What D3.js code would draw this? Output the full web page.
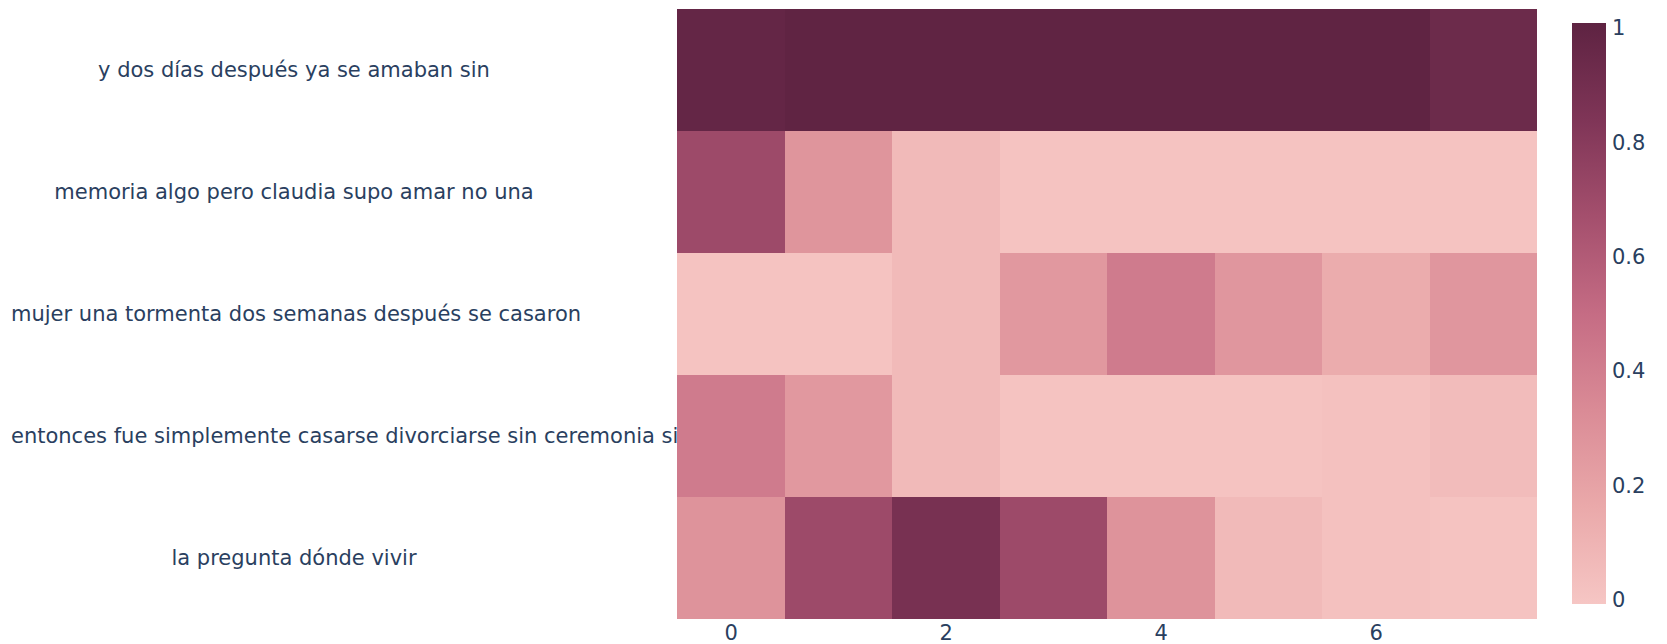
<!DOCTYPE html>
<html>
<head>
<meta charset="utf-8">
<script src="https://cdn.jsdelivr.net/npm/d3@7"></script>
<style>
  body { margin: 0; background: #fff; }
  text { font-family: Verdana, "DejaVu Sans", sans-serif; }
</style>
</head>
<body>
<div id="chart"></div>
<script>
// Chart dimensions
const width = 1667;
const height = 644;
const marginTop = 9;
const marginBottom = 25;
const plotLeft = 677;
const plotRight = 1537;
const fontColor = "#2a3f5f";
const fontSize = "21px";

// Row labels (top to bottom) and column indices
const rowLabels = [
  "y dos días después ya se amaban sin",
  "memoria algo pero claudia supo amar no una",
  "mujer una tormenta dos semanas después se casaron",
  "entonces fue simplemente casarse divorciarse sin ceremonia sin",
  "la pregunta dónde vivir"
];
const columns = [0, 1, 2, 3, 4, 5, 6, 7];
const xTickValues = [0, 2, 4, 6];

// Cell values, one array per row
const row0 = [0.97, 0.99, 0.99, 0.99, 0.99, 0.99, 0.99, 0.93];
const row1 = [0.70, 0.28, 0.07, 0.02, 0.02, 0.02, 0.02, 0.02];
const row2 = [0.02, 0.02, 0.07, 0.26, 0.42, 0.27, 0.15, 0.27];
const row3 = [0.42, 0.26, 0.07, 0.02, 0.02, 0.02, 0.03, 0.06];
const row4 = [0.29, 0.70, 0.87, 0.70, 0.29, 0.07, 0.03, 0.02];
const values = [row0, row1, row2, row3, row4];

// Colour bar
const colorTicks = [0, 0.2, 0.4, 0.6, 0.8, 1];
const colorStops = ["#f6c6c4", "#eaa9aa", "#da8b96", "#c56c84", "#a44f6d", "#7f3557", "#5e2342"];

const color = d3.scaleLinear()
  .domain(colorStops.map((d, i) => i / (colorStops.length - 1)))
  .range(colorStops)
  .interpolate(d3.interpolateRgb);

const x = d3.scaleLinear()
  .domain([-0.5, 7.5])
  .range([plotLeft, plotRight]);

const y = d3.scaleBand()
  .domain(d3.range(rowLabels.length))
  .range([marginTop, height - marginBottom])
  .padding(0);

const svg = d3.select("#chart")
  .append("svg")
  .attr("width", width)
  .attr("height", height)
  .attr("viewBox", [0, 0, width, height]);

// Row labels, centred in the left margin and clipped at the plot edge
svg.append("clipPath")
  .attr("id", "labelClip")
  .append("rect")
  .attr("x", 0)
  .attr("y", 0)
  .attr("width", plotLeft)
  .attr("height", height);

const labelCenter = 294;
const labelMinX = 11;
const labels = svg.append("g")
  .attr("clip-path", "url(#labelClip)")
  .selectAll("text")
  .data(rowLabels)
  .join("text")
  .attr("y", (d, i) => y(i) + y.bandwidth() / 2)
  .attr("dy", "0.35em")
  .attr("fill", fontColor)
  .style("font-size", fontSize)
  .text(d => d);

labels.each(function() {
  const w = this.getComputedTextLength();
  const x0 = Math.max(labelMinX, labelCenter - w / 2);
  d3.select(this).attr("x", x0);
});

// Heatmap cells
const cells = values.flatMap((row, r) => row.map((v, c) => ({ r, c, v })));
svg.append("g")
  .selectAll("rect")
  .data(cells)
  .join("rect")
  .attr("x", d => x(columns[d.c] - 0.5))
  .attr("y", d => y(d.r))
  .attr("width", d => x(columns[d.c] + 0.5) - x(columns[d.c] - 0.5))
  .attr("height", y.bandwidth())
  .attr("fill", d => color(d.v))
  .attr("shape-rendering", "crispEdges");

// X axis
const xAxis = svg.append("g")
  .attr("transform", `translate(0,${height - marginBottom})`)
  .call(d3.axisBottom(x).tickValues(xTickValues).tickSize(0).tickPadding(6));
xAxis.select(".domain").remove();
xAxis.selectAll(".tick text")
  .attr("fill", fontColor)
  .style("font-size", fontSize)
  .style("font-family", "Verdana, 'DejaVu Sans', sans-serif");

// Colour bar
const barX = 1572;
const barWidth = 34;
const barTop = 23;
const barBottom = 604;

const grad = svg.append("defs")
  .append("linearGradient")
  .attr("id", "cbar")
  .attr("x1", 0).attr("y1", 1)
  .attr("x2", 0).attr("y2", 0);
grad.selectAll("stop")
  .data(colorStops)
  .join("stop")
  .attr("offset", (d, i) => i / (colorStops.length - 1))
  .attr("stop-color", d => d);

svg.append("rect")
  .attr("x", barX)
  .attr("y", barTop)
  .attr("width", barWidth)
  .attr("height", barBottom - barTop)
  .attr("fill", "url(#cbar)");

const cScale = d3.scaleLinear().domain([0, 1]).range([barBottom - 4, barTop + 5]);
const cAxis = svg.append("g")
  .attr("transform", `translate(${barX + barWidth},0)`)
  .call(d3.axisRight(cScale).tickValues(colorTicks).tickFormat(d3.format("~g")).tickSize(0).tickPadding(6));
cAxis.select(".domain").remove();
cAxis.selectAll(".tick text")
  .attr("fill", fontColor)
  .style("font-size", fontSize)
  .style("font-family", "Verdana, 'DejaVu Sans', sans-serif");
</script>
</body>
</html>
